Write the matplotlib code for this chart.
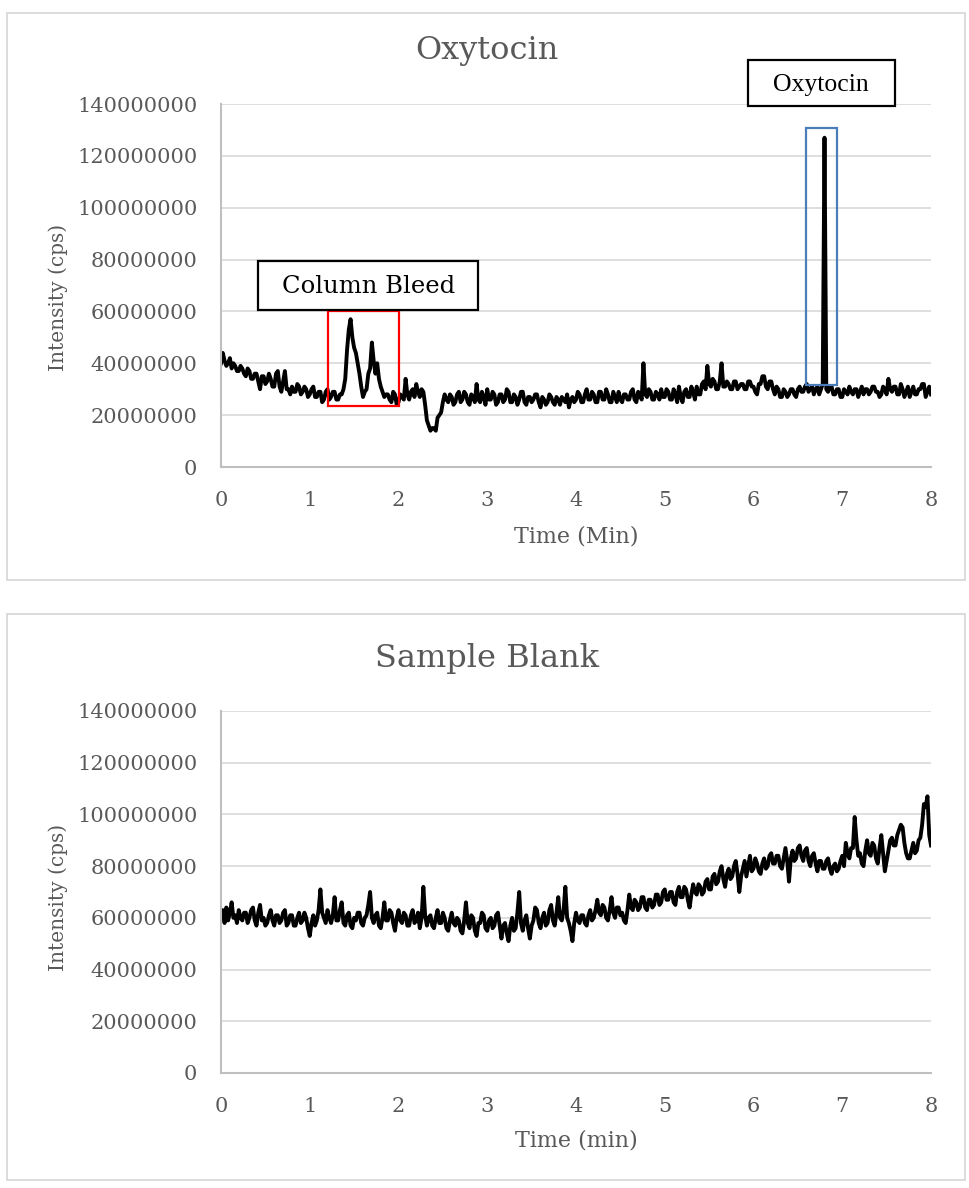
import matplotlib
matplotlib.use("Agg")
import matplotlib.pyplot as plt
import numpy as np
from matplotlib.patches import Rectangle

# Intensity readings (millions of cps), sampled every 0.02 min from 0 to 8 min
time_min = np.linspace(0, 8, 401)

oxytocin = [
    40, 44, 41, 39, 40, 42, 38, 40, 39, 37,
    37, 39, 38, 36, 35, 38, 37, 34, 34, 36,
    36, 33, 30, 35, 35, 32, 33, 36, 34, 31,
    31, 36, 37, 31, 29, 33, 37, 30, 30, 28,
    31, 29, 29, 32, 31, 28, 29, 31, 30, 27,
    28, 30, 31, 27, 27, 29, 29, 25, 26, 29,
    30, 26, 27, 29, 29, 26, 26, 28, 28, 30,
    34, 45, 53, 57, 50, 46, 44, 40, 36, 31,
    27, 29, 30, 36, 38, 48, 41, 36, 40, 34,
    31, 29, 27, 28, 28, 26, 25, 29, 28, 24,
    25, 28, 27, 26, 34, 28, 26, 29, 30, 27,
    32, 29, 27, 30, 29, 24, 18, 16, 14, 15,
    15, 14, 19, 20, 21, 25, 28, 26, 25, 28,
    27, 24, 25, 28, 29, 25, 26, 29, 28, 25,
    24, 28, 27, 25, 32, 26, 25, 29, 27, 24,
    30, 26, 26, 29, 28, 24, 25, 28, 28, 25,
    26, 30, 29, 25, 25, 28, 27, 24, 26, 29,
    29, 25, 24, 27, 27, 25, 26, 28, 28, 25,
    23, 27, 26, 24, 25, 28, 27, 25, 24, 27,
    26, 24, 27, 26, 25, 28, 23, 26, 27, 25,
    26, 29, 28, 25, 25, 28, 30, 26, 26, 29,
    28, 25, 25, 29, 29, 26, 26, 30, 28, 25,
    25, 29, 27, 25, 29, 26, 25, 28, 28, 26,
    26, 29, 30, 26, 25, 29, 28, 26, 40, 28,
    27, 30, 29, 26, 26, 29, 28, 26, 30, 27,
    27, 30, 29, 26, 26, 30, 28, 25, 31, 27,
    25, 29, 30, 27, 27, 31, 29, 26, 31, 28,
    28, 32, 33, 30, 39, 32, 31, 34, 33, 30,
    30, 33, 40, 31, 31, 33, 32, 30, 30, 33,
    33, 30, 31, 32, 32, 30, 30, 33, 33, 31,
    31, 29, 28, 32, 32, 35, 35, 31, 30, 33,
    33, 30, 28, 31, 30, 27, 27, 30, 29, 27,
    28, 30, 30, 28, 27, 30, 31, 29, 29, 31,
    32, 29, 30, 31, 28, 30, 31, 28, 30, 32,
    127, 30, 29, 31, 31, 28, 28, 30, 30, 27,
    27, 30, 29, 28, 31, 29, 28, 30, 30, 27,
    29, 31, 28, 30, 30, 28, 29, 31, 31, 29,
    29, 27, 28, 31, 30, 28, 34, 30, 29, 31,
    31, 28, 28, 32, 30, 27, 29, 31, 27, 29,
    31, 28, 28, 30, 30, 32, 32, 27, 29, 31,
    28,
]

blank = [
    60, 63, 58, 64, 59, 62, 66, 60, 61, 58,
    63, 60, 59, 62, 62, 58, 60, 63, 64, 59,
    57, 62, 65, 59, 60, 57, 58, 61, 63, 59,
    57, 61, 61, 58, 59, 62, 63, 57, 58, 61,
    61, 57, 57, 60, 62, 58, 59, 62, 60, 56,
    53, 58, 61, 57, 59, 63, 71, 62, 60, 58,
    63, 60, 58, 61, 68, 59, 59, 63, 66, 58,
    57, 61, 62, 57, 56, 60, 59, 62, 62, 58,
    57, 60, 61, 65, 70, 60, 58, 61, 62, 57,
    56, 60, 66, 59, 59, 63, 62, 58, 55, 60,
    63, 59, 58, 62, 61, 57, 57, 61, 63, 58,
    59, 62, 56, 60, 72, 61, 57, 60, 61, 57,
    56, 60, 63, 58, 58, 62, 60, 56, 55, 59,
    62, 58, 57, 60, 59, 55, 54, 59, 66, 58,
    56, 61, 60, 55, 53, 58, 58, 62, 61, 56,
    55, 59, 60, 56, 57, 61, 62, 57, 52, 57,
    58, 54, 51, 57, 60, 55, 56, 62, 70, 58,
    55, 59, 61, 56, 52, 57, 59, 64, 63, 58,
    56, 60, 62, 57, 58, 63, 65, 59, 57, 62,
    68, 60, 59, 63, 72, 60, 58, 55, 51, 58,
    62, 59, 58, 61, 61, 58, 57, 61, 63, 59,
    60, 63, 67, 62, 61, 65, 64, 60, 59, 63,
    68, 62, 60, 64, 64, 61, 62, 59, 58, 63,
    69, 64, 63, 67, 66, 63, 64, 68, 68, 64,
    63, 67, 67, 64, 65, 69, 69, 65, 66, 70,
    71, 67, 67, 70, 70, 66, 65, 70, 72, 68,
    68, 72, 71, 67, 64, 69, 73, 70, 69, 73,
    72, 69, 70, 74, 75, 71, 71, 76, 77, 73,
    74, 78, 80, 75, 72, 77, 79, 75, 76, 80,
    82, 77, 70, 76, 79, 82, 76, 80, 84, 78,
    79, 83, 81, 78, 77, 81, 83, 79, 80, 84,
    85, 81, 81, 84, 84, 80, 79, 83, 87, 82,
    74, 83, 86, 82, 83, 87, 88, 84, 82, 86,
    87, 82, 80, 84, 85, 81, 78, 82, 82, 79,
    79, 82, 83, 79, 77, 80, 81, 78, 79, 82,
    84, 80, 89, 85, 83, 87, 87, 99, 90, 84,
    85, 81, 80, 86, 90, 85, 84, 89, 88, 83,
    81, 87, 92, 85, 78, 82, 86, 90, 91, 88,
    88, 92, 94, 96, 95, 89, 85, 83, 83, 86,
    89, 85, 86, 90, 91, 96, 104, 103, 107, 92,
    88,
]

y_ticks = np.arange(0, 140000001, 20000000)
x_ticks = np.arange(0, 9)

serif = "DejaVu Serif"
label_grey = "#595959"

W, H = 969, 1188
fig = plt.figure(figsize=(W / 100, H / 100), dpi=100)

# chart area frames
for top, bottom in [(13, 580), (614, 1180)]:
    fig.patches.append(Rectangle((7 / W, 1 - bottom / H), 958 / W, (bottom - top) / H,
                                 transform=fig.transFigure, fill=False,
                                 edgecolor="#d9d9d9", lw=1.3))


def style_axes(ax):
    ax.set_xlim(0, 8)
    ax.set_ylim(0, 140000000)
    ax.set_xticks(x_ticks)
    ax.set_yticks(y_ticks)
    ax.set_yticklabels([str(v) for v in y_ticks])
    ax.grid(axis="y", color="#d9d9d9", lw=1.2)
    ax.set_axisbelow(True)
    for side in ["top", "right"]:
        ax.spines[side].set_visible(False)
    for side in ["left", "bottom"]:
        ax.spines[side].set_color("#bfbfbf")
        ax.spines[side].set_linewidth(1.5)
    ax.tick_params(length=0, labelsize=15, labelcolor=label_grey)
    ax.tick_params(axis="y", pad=17)
    ax.tick_params(axis="x", pad=17)
    for lab in ax.get_xticklabels() + ax.get_yticklabels():
        lab.set_fontfamily(serif)


# Oxytocin run
ax1 = fig.add_axes([221 / W, 1 - 467 / H, 710 / W, 363 / H])
style_axes(ax1)
ax1.plot(time_min, np.array(oxytocin) * 1e6, color="black", lw=2.8, solid_joinstyle="round")

ax1.add_patch(Rectangle((1.2, 23.5e6), 0.8, 36.5e6, fill=False, edgecolor="#ff0000", lw=1.6, zorder=4))
ax1.add_patch(Rectangle((6.59, 31.6e6), 0.35, 99e6, fill=False, edgecolor="#4a7ebb", lw=1.6, zorder=4))

ax1.add_patch(Rectangle((0.42, 60.5e6), 2.48, 18.9e6, facecolor="white", edgecolor="black",
                        lw=1.6, zorder=5))
ax1.text(1.66, 69.5e6, "Column Bleed", ha="center", va="center", fontsize=17.5,
         family=serif, color="black", zorder=6)
ax1.add_patch(Rectangle((5.94, 139.2e6), 1.65, 17.8e6, facecolor="white", edgecolor="black",
                        lw=1.6, zorder=5, clip_on=False))
ax1.text(6.76, 147.5e6, "Oxytocin", ha="center", va="center", fontsize=18.5,
         family="Liberation Serif", color="black", zorder=6, clip_on=False)

fig.text(487 / W, 1 - 50 / H, "Oxytocin", ha="center", va="center", fontsize=23,
         family=serif, color=label_grey)
fig.text(576 / W, 1 - 537 / H, "Time (Min)", ha="center", va="center", fontsize=16,
         family=serif, color=label_grey)
fig.text(58 / W, 1 - 297 / H, "Intensity (cps)", ha="center", va="center", fontsize=14.5,
         family=serif, color=label_grey, rotation=90)

# Sample blank run
ax2 = fig.add_axes([221 / W, 1 - 1073 / H, 710 / W, 362 / H])
style_axes(ax2)
ax2.plot(time_min, np.array(blank) * 1e6, color="black", lw=2.8, solid_joinstyle="round")

fig.text(487 / W, 1 - 658 / H, "Sample Blank", ha="center", va="center", fontsize=23,
         family=serif, color=label_grey)
fig.text(576 / W, 1 - 1141 / H, "Time (min)", ha="center", va="center", fontsize=16,
         family=serif, color=label_grey)
fig.text(58 / W, 1 - 897 / H, "Intensity (cps)", ha="center", va="center", fontsize=14.5,
         family=serif, color=label_grey, rotation=90)

fig.savefig("out.png", dpi=100)
